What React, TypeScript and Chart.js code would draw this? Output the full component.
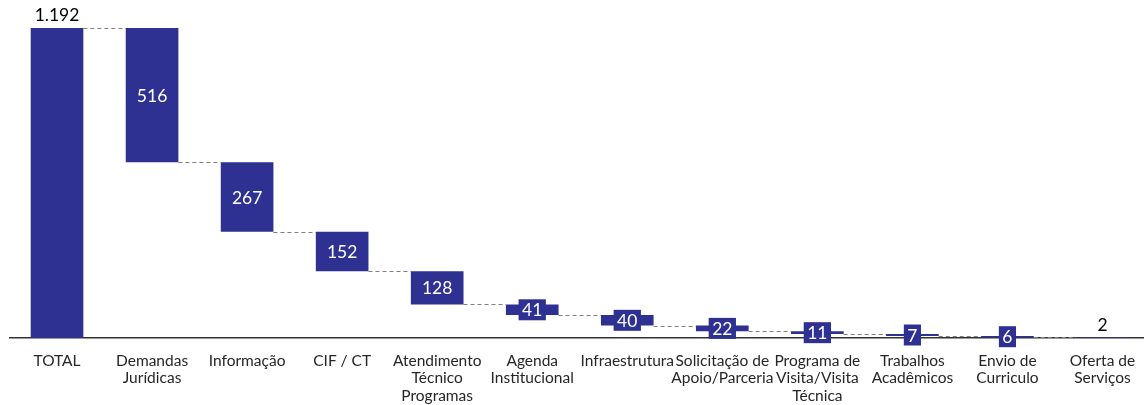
import React, { useEffect, useRef } from "react";
import { Chart, registerables } from "chart.js";

Chart.register(...registerables);

const categories: (string | string[])[] = [
  "TOTAL",
  ["Demandas", "Jurídicas"],
  "Informação",
  "CIF / CT",
  ["Atendimento", "Técnico", "Programas"],
  ["Agenda", "Institucional"],
  "Infraestrutura",
  ["Solicitação de", "Apoio/Parceria"],
  ["Programa de", "Visita/Visita", "Técnica"],
  ["Trabalhos", "Acadêmicos"],
  ["Envio de", "Curriculo"],
  ["Oferta de", "Serviços"],
];

const totalValue = 1192;
const stepValues = [516, 267, 152, 128, 41, 40, 22, 11, 7, 6, 2];
const valueLabels = ["1.192", "516", "267", "152", "128", "41", "40", "22", "11", "7", "6", "2"];

const BAR_COLOR = "#2E3192";
const FONT = "Lato, 'Noto Sans', sans-serif";

export default function App() {
  const ref = useRef<HTMLCanvasElement>(null);

  useEffect(() => {
    if (!ref.current) return;
    const ranges: [number, number][] = [[0, totalValue]];
    let level = totalValue;
    for (const v of stepValues) {
      ranges.push([level - v, level]);
      level -= v;
    }

    const overlay = {
      id: "waterfallOverlay",
      beforeDatasetsDraw(chart: any) {
        const ctx = chart.ctx;
        const meta = chart.getDatasetMeta(0);
        const ys = chart.scales.y;
        ctx.save();
        ctx.strokeStyle = "#7f7f7f";
        ctx.lineWidth = 1;
        ctx.setLineDash([4, 3]);
        for (let i = 0; i < ranges.length - 1; i++) {
          const a = meta.data[i];
          const b = meta.data[i + 1];
          const lvl = ranges[i][0] === 0 ? ranges[i][1] : ranges[i][0];
          const y = Math.round(ys.getPixelForValue(lvl)) + 0.5;
          ctx.beginPath();
          ctx.moveTo(a.x + a.width / 2, y);
          ctx.lineTo(b.x - b.width / 2, y);
          ctx.stroke();
        }
        ctx.restore();
      },
      afterDatasetsDraw(chart: any) {
        const ctx = chart.ctx;
        const meta = chart.getDatasetMeta(0);
        ctx.save();
        ctx.font = `17.5px ${FONT}`;
        ctx.textAlign = "center";
        ctx.textBaseline = "middle";
        meta.data.forEach((el: any, i: number) => {
          const txt = valueLabels[i];
          const top = Math.min(el.y, el.base);
          const bottom = Math.max(el.y, el.base);
          if (i === 0 || i === meta.data.length - 1) {
            ctx.fillStyle = "#000";
            ctx.fillText(txt, el.x, top - (i === 0 ? 13 : 12));
            return;
          }
          const cy = (top + bottom) / 2;
          const w = ctx.measureText(txt).width + 7;
          const h = 21;
          ctx.fillStyle = BAR_COLOR;
          ctx.fillRect(el.x - w / 2, cy - h / 2, w, h);
          ctx.fillStyle = "#fff";
          ctx.fillText(txt, el.x, cy + 1);
        });
        ctx.restore();
      },
    };

    const chart = new Chart(ref.current, {
      type: "bar",
      data: {
        labels: categories as any,
        datasets: [
          {
            data: ranges as any,
            backgroundColor: BAR_COLOR,
            borderWidth: 0,
            categoryPercentage: 1,
            barPercentage: 0.554,
          },
        ],
      },
      options: {
        responsive: false,
        animation: false,
        devicePixelRatio: 1,
        layout: { padding: { left: 9.5, right: 0, top: 0, bottom: 0 } },
        plugins: { legend: { display: false }, tooltip: { enabled: false } },
        scales: {
          x: {
            grid: { display: false, drawTicks: false },
            border: { display: true, color: "#333", width: 1.5 },
            ticks: {
              autoSkip: false,
              maxRotation: 0,
              minRotation: 0,
              padding: 14,
              color: "#262626",
              font: { family: FONT, size: 15.5, lineHeight: 1.13 },
            },
            afterFit(scale: any) {
              scale.height = 67;
            },
          },
          y: {
            display: false,
            min: 0,
            max: 1300,
          },
        },
      },
      plugins: [overlay],
    });
    return () => chart.destroy();
  }, []);

  return (
    <div style={{ position: "fixed", left: 0, top: 0, width: 1144, height: 405, overflow: "hidden", background: "#fff" }}>
      <canvas ref={ref} width={1150} height={405} style={{ display: "block" }} />
    </div>
  );
}
